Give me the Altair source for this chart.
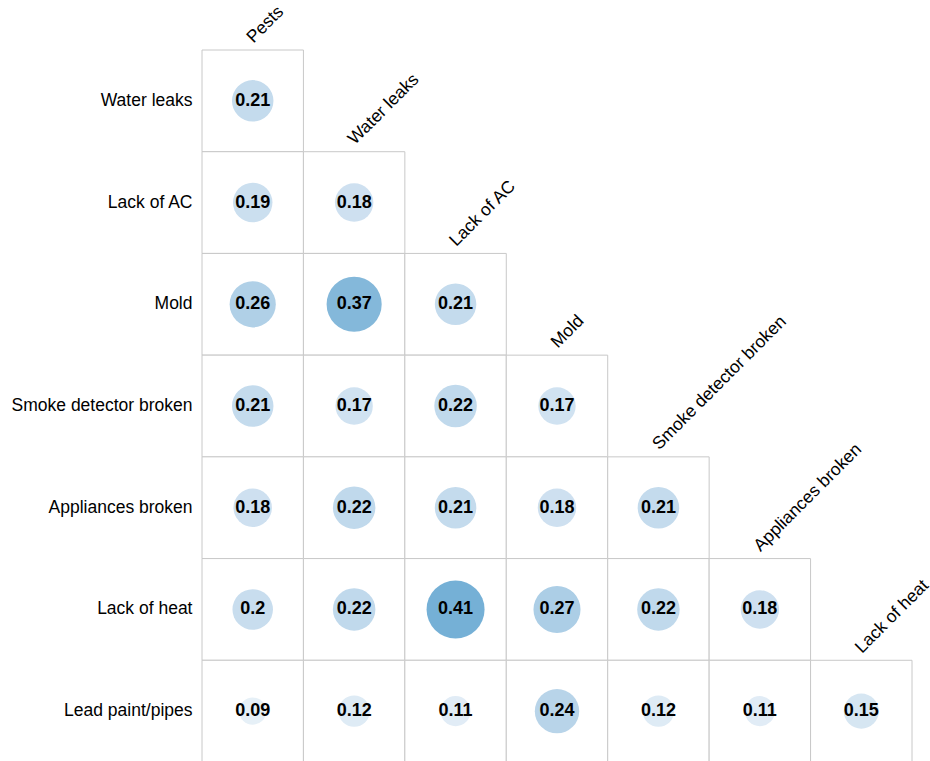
import altair as alt
import pandas as pd

# Lower-triangle correlation matrix of housing problems
row_labels = [
    "Water leaks",
    "Lack of AC",
    "Mold",
    "Smoke detector broken",
    "Appliances broken",
    "Lack of heat",
    "Lead paint/pipes",
]
col_labels = [
    "Pests",
    "Water leaks",
    "Lack of AC",
    "Mold",
    "Smoke detector broken",
    "Appliances broken",
    "Lack of heat",
]

water_leaks = [0.21]
lack_of_ac = [0.19, 0.18]
mold = [0.26, 0.37, 0.21]
smoke_detector = [0.21, 0.17, 0.22, 0.17]
appliances = [0.18, 0.22, 0.21, 0.18, 0.21]
lack_of_heat = [0.2, 0.22, 0.41, 0.27, 0.22, 0.18]
lead_paint = [0.09, 0.12, 0.11, 0.24, 0.12, 0.11, 0.15]

row_values = [water_leaks, lack_of_ac, mold, smoke_detector,
              appliances, lack_of_heat, lead_paint]

records = []
for r, vals in zip(row_labels, row_values):
    for c, v in zip(col_labels, vals):
        records.append({"row": r, "col": c, "value": v, "label": f"{v:g}"})
cells = pd.DataFrame(records)

# each column header sits on top of the first cell of its column
headers = pd.DataFrame({"col": col_labels, "row": row_labels})

FONT = "Liberation Sans"

x_enc = alt.X("col:N", scale=alt.Scale(domain=col_labels, paddingInner=0, paddingOuter=0),
              axis=None)
y_enc = alt.Y("row:N", scale=alt.Scale(domain=row_labels, paddingInner=0, paddingOuter=0),
              axis=alt.Axis(title=None, domain=False, ticks=False, grid=False,
                            labelFont=FONT, labelFontSize=17.5, labelColor="#000000",
                            labelPadding=10, labelLimit=300))

grid = alt.Chart(cells).mark_rect(fill="#ffffff", stroke="#c8c8c8", strokeWidth=1).encode(
    x=x_enc, y=y_enc
)

# circle area grows with the value (symbol size = diameter squared)
dots = alt.Chart(cells).mark_circle(opacity=1).encode(
    x=x_enc,
    y=y_enc,
    size=alt.Size("value:Q", scale=alt.Scale(domain=[0, 0.41], range=[0, 3364]), legend=None),
    color=alt.Color("value:Q",
                    scale=alt.Scale(domain=[0, 0.2, 0.4, 0.6],
                                    range=["#ffffff", "#c8ddee", "#78b2d7", "#4393c3"],
                                    interpolate="rgb"),
                    legend=None),
)

numbers = alt.Chart(cells).mark_text(
    font=FONT, fontSize=18, fontWeight="bold", color="#000000"
).encode(x=x_enc, y=y_enc, text="label:N")

col_titles = alt.Chart(headers).mark_text(
    font=FONT, fontSize=17.5, color="#000000", angle=315,
    align="left", baseline="alphabetic", dx=5, dy=-4
).encode(
    x=x_enc,
    y=alt.Y("row:N", bandPosition=0,
            scale=alt.Scale(domain=row_labels, paddingInner=0, paddingOuter=0)),
    text="col:N",
)

chart = alt.layer(grid, dots, numbers, col_titles).properties(
    width=710,
    height=712,
    autosize=alt.AutoSizeParams(type="none"),
    padding={"left": 202, "top": 50, "right": 18, "bottom": 0},
).configure_view(stroke=None)

chart.save("out.html", embed_options={"renderer": "svg", "actions": False})
